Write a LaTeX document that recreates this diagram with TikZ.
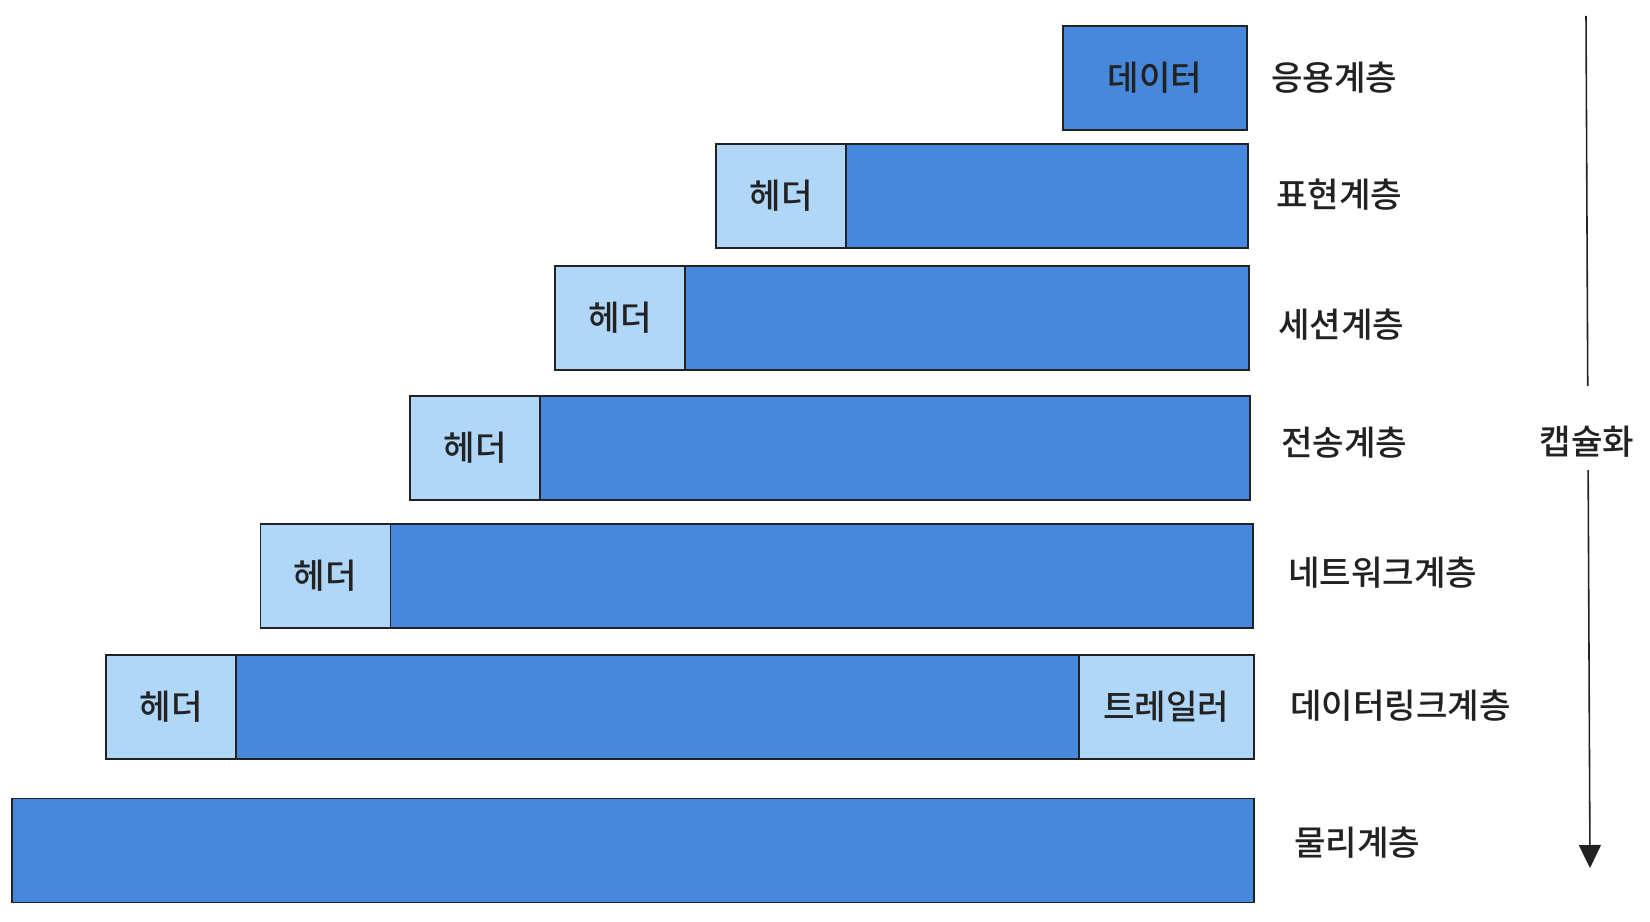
\documentclass[tikz,border=0pt]{standalone}
\usepackage{fontspec}
\setmainfont{Noto Sans CJK KR}[UprightFont=* Medium]
\usepackage{tikz}
\usetikzlibrary{arrows.meta,calc}
\definecolor{pdublue}{HTML}{4688DC}
\definecolor{hdrblue}{HTML}{B0D6F8}
\definecolor{inkgray}{HTML}{222222}
\newcommand{\lbl}{\fontsize{19.5}{23}\selectfont}
\tikzset{
  pdubox/.style    = {draw=inkgray, line width=1.1pt, fill=pdublue, inner sep=0pt,
                      outer sep=0pt, minimum height=2.08cm, font=\lbl, text=inkgray},
  hdrbox/.style    = {pdubox, fill=hdrblue, minimum width=2.6cm},
  layername/.style = {anchor=west, inner sep=0pt, font=\lbl, text=inkgray},
  encline/.style   = {inkgray, line width=0.9pt},
  encar/.style     = {encline, -{Triangle[length=4.6mm,width=4.4mm]}}
}
\begin{document}
\begin{tikzpicture}[x=0.02cm, y=-0.02cm]
  \useasboundingbox (0,0) rectangle (1650,922);
  % application
  \node[pdubox, minimum width=3.68cm] (d1) at (1155,78) {데이터};
  \node[layername] (l1) at (1271,78) {응용계층};
  % presentation
  \node[hdrbox] (h2) at (781,196) {헤더};
  \node[pdubox, anchor=west, minimum width=8.04cm] (d2) at (h2.east) {};
  \node[layername] (l2) at (1276,195) {표현계층};
  % session
  \node[hdrbox] (h3) at (620,318) {헤더};
  \node[pdubox, anchor=west, minimum width=11.28cm] (d3) at (h3.east) {};
  \node[layername] (l3) at (1278,325) {세션계층};
  % transport
  \node[hdrbox] (h4) at (475,448) {헤더};
  \node[pdubox, anchor=west, minimum width=14.2cm] (d4) at (h4.east) {};
  \node[layername] (l4) at (1281,443) {전송계층};
  % network
  \node[hdrbox] (h5) at (325.5,576) {헤더};
  \node[pdubox, anchor=west, minimum width=17.26cm] (d5) at (h5.east) {};
  \node[layername] (l5) at (1288,573) {네트워크계층};
  % data link
  \node[hdrbox] (h6) at (171,707) {헤더};
  \node[pdubox, anchor=west, minimum width=16.86cm] (d6) at (h6.east) {};
  \node[hdrbox, anchor=west, minimum width=3.5cm] (t6) at (d6.east) {트레일러};
  \node[layername] (l6) at (1290,706) {데이터링크계층};
  % physical
  \node[pdubox, minimum width=24.85cm] (d7) at (633,850.5) {};
  \node[layername] (l7) at (1294,843) {물리계층};
  % encapsulation arrow
  \coordinate (enctop) at (1586,16);
  \coordinate (encbot) at (1590,868);
  \node[inner sep=0pt, font=\lbl, text=inkgray] (encap) at (1587,442) {캡슐화};
  \draw[encline] (enctop) -- ($(enctop)!0.434!(encbot)$);
  \draw[encar] ($(enctop)!0.533!(encbot)$) -- (encbot);
\end{tikzpicture}
\end{document}
